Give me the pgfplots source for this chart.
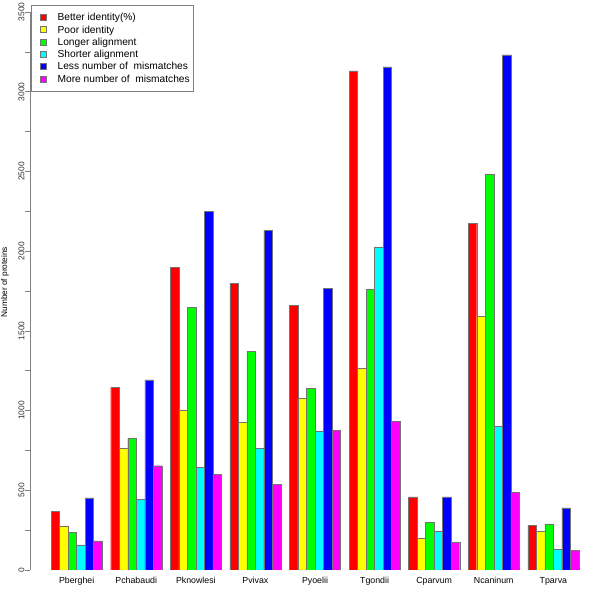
\documentclass[border=0pt]{standalone}
\usepackage{fontspec}
\setmainfont{Liberation Sans}
\usepackage{pgfplots}
\usepackage{pgfplotstable}
\pgfplotsset{compat=1.18}
\pgfplotstableread{
x  better poor longer shorter less more
4  366  276  238  157  452  182
11 1146 763  826  441  1192 654
18 1899 1004 1648 644  2250 602
25 1799 927  1372 763  2129 537
32 1662 1075 1138 872  1765 876
39 3130 1265 1761 2026 3156 933
46 458  201  297  245  458  174
53 2173 1589 2482 901  3231 489
60 282  243  289  130  389  124
}\datatable
\begin{document}
\begin{tikzpicture}
\begin{axis}[
  scale only axis, width=570pt, height=570pt,
  xmin=-1.48, xmax=65.48, ymin=0, ymax=3575,
  axis lines*=left, axis line style={draw=none},
  ybar=0pt, bar width=1,
  xtick={4,11,18,25,32,39,46,53,60},
  xticklabels={Pberghei,Pchabaudi,Pknowlesi,Pvivax,Pyoelii,Tgondii,Cparvum,Ncaninum,Tparva},
  x tick style={draw=none},
  ytick={0,250,...,3500},
  yticklabels={0,,500,,1000,,1500,,2000,,2500,,3000,,3500},
  y tick style={draw=black!50, line width=0.5pt},
  tick align=outside, major tick length=5pt,
  yticklabel style={rotate=90, anchor=south, font=\fontsize{8.4}{10}\selectfont, text=black!80, yshift=-3pt},
  xticklabel style={font=\fontsize{8.8}{10}\selectfont, yshift=1pt},
  /pgf/number format/assume math mode=true,
  ylabel={Number of proteins},
  every axis y label/.style={at={(rel axis cs:0,0.505)}, rotate=90, yshift=25pt, anchor=center, font=\fontsize{8.3}{10}\selectfont},
  legend cell align=left,
  legend image code/.code={\path (-5pt,0pt) (17pt,0pt); \draw[#1, draw=black!55, line width=0.4pt] (0pt,-3pt) rectangle (6pt,3pt);},
  legend style={at={(rel axis cs:0.00175,0.99123)}, anchor=north west, draw=black!50, line width=0.5pt,
    font=\fontsize{10.2}{12.3}\selectfont, inner xsep=4pt, inner ysep=7pt,
    row sep=2pt, column sep=0pt,
    nodes={inner sep=0pt, text height=8.5pt, text depth=1.8pt}},
  every axis plot/.append style={draw=black!55, line width=0.4pt},
]
\addplot[fill={rgb,255:red,255;green,0;blue,0}] table[x=x,y=better]{\datatable};
\addplot[fill={rgb,255:red,255;green,255;blue,0}] table[x=x,y=poor]{\datatable};
\addplot[fill={rgb,255:red,0;green,255;blue,0}] table[x=x,y=longer]{\datatable};
\addplot[fill={rgb,255:red,0;green,255;blue,255}] table[x=x,y=shorter]{\datatable};
\addplot[fill={rgb,255:red,0;green,0;blue,255}] table[x=x,y=less]{\datatable};
\addplot[fill={rgb,255:red,255;green,0;blue,255}] table[x=x,y=more]{\datatable};
\legend{Better identity(\%),Poor identity,Longer alignment,Shorter alignment,Less number of\ \ mismatches,More number of\ \ mismatches}
\draw[black!50, line width=0.5pt] (axis cs:-1.48,0) -- (axis cs:-1.48,3500);
\end{axis}
\pgfresetboundingbox
\path (current axis.south west) ++(-30pt,-30pt) rectangle (current axis.north east);
\end{tikzpicture}
\end{document}
